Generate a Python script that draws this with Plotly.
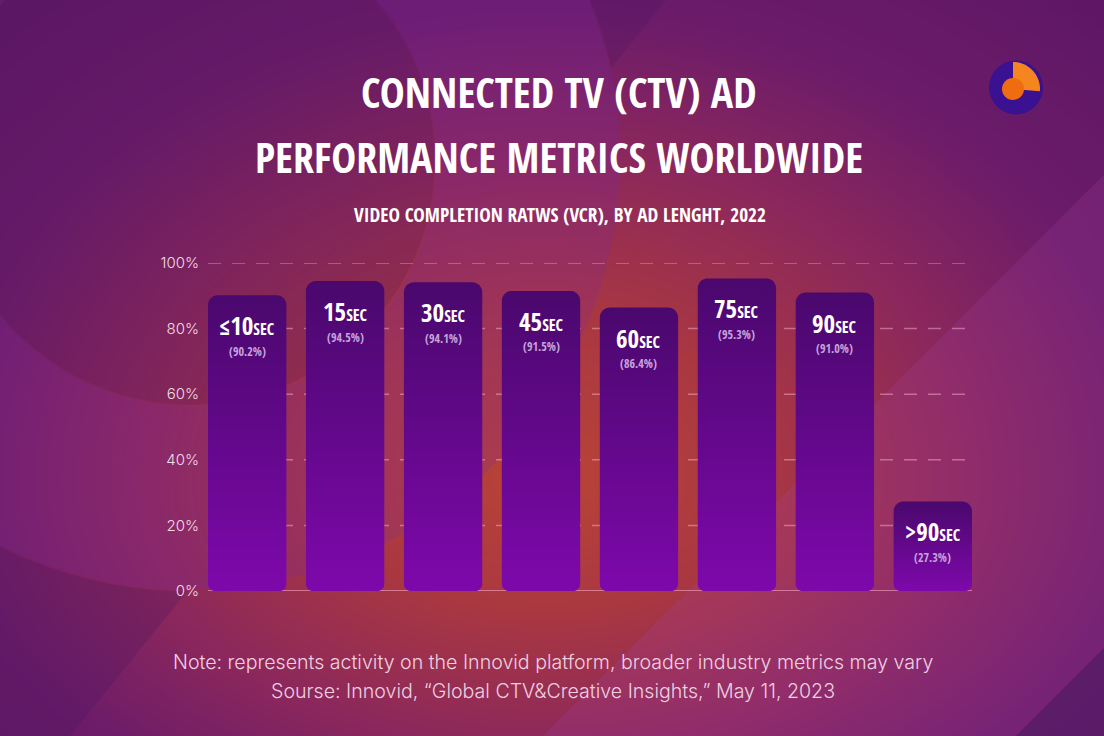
import math
import zlib
import struct
import base64
import numpy as np
import plotly.graph_objects as go

# ---------------- data ----------------
ad_lengths = ["≤10", "15", "30", "45", "60", "75", "90", ">90"]
length_unit = "SEC"
vcr_values = [90.2, 94.5, 94.1, 91.5, 86.4, 95.3, 91.0, 27.3]
y_tick_vals = [0, 20, 40, 60, 80, 100]
y_tick_text = ["0%", "20%", "40%", "60%", "80%", "100%"]

title_lines = ["CONNECTED TV (CTV) AD", "PERFORMANCE METRICS WORLDWIDE"]
subtitle = "VIDEO COMPLETION RATWS (VCR), BY AD LENGHT, 2022"
note_text = "Note: represents activity on the Innovid platform, broader industry metrics may vary"
source_text = "Sourse: Innovid, “Global CTV&Creative Insights,” May 11, 2023"

# ---------------- layout geometry ----------------
W, H = 1104, 736
ML, MR, MT, MB = 208, 132, 263, 145
PW, PH = W - ML - MR, H - MT - MB
X_RANGE = [-0.4, len(ad_lengths) - 0.6]
Y_RANGE = [0, 100]
PX_X = PW / (X_RANGE[1] - X_RANGE[0])
PX_Y = PH / (Y_RANGE[1] - Y_RANGE[0])


def px(x_px):
    return (x_px - ML) / PW


def py(y_px):
    return (H - MB - y_px) / PH


NARROW = "Open Sans Condensed, Roboto Condensed, DejaVu Sans Condensed, sans-serif"
BODY = "Inter, Roboto, sans-serif"

# ---------------- background image ----------------
yy, xx = np.mgrid[0:H, 0:W].astype(float)
ry_ = np.where(yy > 480, 380, 470)
d = np.sqrt(((xx - 545) / 600) ** 2 + ((yy - 480) / ry_) ** 2)
stops = [0, 0.35, 0.7, 1.0, 1.5]
cols = np.array([(185, 68, 55), (170, 56, 66), (140, 40, 92), (108, 28, 106), (90, 22, 100)], float)
img = np.stack([np.interp(d, stops, cols[:, c]) for c in range(3)], axis=-1)


def blend(img, mask, color, alpha):
    m = (mask * alpha)[..., None]
    return img * (1 - m) + np.array(color, float) * m


r = np.sqrt((xx - 190) ** 2 + (yy - 160) ** 2)
ring = np.clip((430 - r) / 1.5, 0, 1) * np.clip((r - 245) / 1.5, 0, 1)
inner = np.clip((245 - r) / 1.5, 0, 1)
img = blend(img, ring, (120, 38, 170), 0.2)
img = blend(img, inner, (75, 20, 95), 0.2)
s = xx + yy
img = blend(img, np.clip((s - 1277) / 1.5, 0, 1), (165, 65, 165), 0.2)
img = blend(img, np.clip((s - 1750) / 1.5, 0, 1), (55, 18, 85), 0.4)
outside = np.clip((r - 430) / 1.5, 0, 1)
left_line = np.clip(((180 - 0.81 * (yy - 600)) - xx) / 1.5, 0, 1)
img = blend(img, outside * left_line, (70, 20, 95), 0.25)
img = np.clip(img, 0, 255).astype(np.uint8)


def png_data_uri(a):
    h, w, _ = a.shape
    raw = np.concatenate([np.zeros((h, 1), np.uint8), a.reshape(h, w * 3)], axis=1).tobytes()

    def chunk(t, data):
        return struct.pack(">I", len(data)) + t + data + struct.pack(">I", zlib.crc32(t + data) & 0xFFFFFFFF)

    png = (b"\x89PNG\r\n\x1a\n"
           + chunk(b"IHDR", struct.pack(">IIBBBBB", w, h, 8, 2, 0, 0, 0))
           + chunk(b"IDAT", zlib.compress(raw, 9))
           + chunk(b"IEND", b""))
    return "data:image/png;base64," + base64.b64encode(png).decode()


bg_uri = png_data_uri(img)

# ---------------- bars (rounded, gradient) ----------------


def rounded_bar(xc, v, hw=0.4, rt=10, rb=7, n=10):
    rtx, rty = rt / PX_X, rt / PX_Y
    rbx, rby = rb / PX_X, rb / PX_Y
    corners = [
        (xc - hw + rbx, rby, rbx, rby, math.pi),
        (xc + hw - rbx, rby, rbx, rby, 1.5 * math.pi),
        (xc + hw - rtx, v - rty, rtx, rty, 0.0),
        (xc - hw + rtx, v - rty, rtx, rty, 0.5 * math.pi),
    ]
    xs, ys = [], []
    for cx, cy, rx, ry, a0 in corners:
        for k in range(n + 1):
            a = a0 + k * (math.pi / 2) / n
            xs.append(cx + rx * math.cos(a))
            ys.append(cy + ry * math.sin(a))
    xs.append(xs[0])
    ys.append(ys[0])
    return xs, ys


fig = go.Figure()
for i, v in enumerate(vcr_values):
    bx, by = rounded_bar(i, v)
    fig.add_trace(go.Scatter(
        x=bx, y=by, mode="none", fill="toself",
        fillcolor="#62089a",
        fillgradient=dict(type="vertical", colorscale=[[0, "#7e08ab"], [1, "#4a086d"]]),
        hoverinfo="skip", showlegend=False,
    ))

# gridlines (dashed) and baseline
for t in y_tick_vals[1:]:
    fig.add_shape(type="line", xref="paper", yref="y", x0=0, x1=1, y0=t, y1=t,
                  line=dict(color="rgba(255,190,215,0.45)", width=1.5, dash="13px,11px"),
                  layer="below")
fig.add_shape(type="line", xref="paper", yref="y", x0=0, x1=1, y0=0, y1=0,
              line=dict(color="rgba(255,175,205,0.55)", width=2), layer="below")

# bar labels
for i, (cat, v) in enumerate(zip(ad_lengths, vcr_values)):
    fig.add_annotation(
        x=i, y=v, xref="x", yref="y", yshift=-30, yanchor="middle", showarrow=False,
        borderpad=0,
        text=f"<b>{cat}<span style='font-size:16px'>{length_unit}</span></b>",
        font=dict(family=NARROW, size=25, color="white"),
    )
    fig.add_annotation(
        x=i, y=v, xref="x", yref="y", yshift=-56, yanchor="middle", showarrow=False,
        borderpad=0,
        text=f"({v:.1f}%)",
        font=dict(family=NARROW, size=12, color="#c6a3dc", weight=300),
    )

# titles
fig.add_annotation(x=px(559), y=py(91), xref="paper", yref="paper", showarrow=False,
                   text=f"<b>{title_lines[0]}</b>", yanchor="middle",
                   font=dict(family=NARROW, size=42, color="white"))
fig.add_annotation(x=px(559), y=py(156), xref="paper", yref="paper", showarrow=False,
                   text=f"<b>{title_lines[1]}</b>", yanchor="middle",
                   font=dict(family=NARROW, size=42, color="white"))
fig.add_annotation(x=px(560), y=py(214), xref="paper", yref="paper", showarrow=False,
                   text=f"<b>{subtitle}</b>", yanchor="middle",
                   font=dict(family=NARROW, size=19.3, color="white"))
fig.add_annotation(x=px(553), y=py(662), xref="paper", yref="paper", showarrow=False,
                   text=note_text, yanchor="middle",
                   font=dict(family=BODY, size=19.6, color="#f0cfe2", weight=300))
fig.add_annotation(x=px(553), y=py(691), xref="paper", yref="paper", showarrow=False,
                   text=source_text, yanchor="middle",
                   font=dict(family=BODY, size=19.6, color="#f0cfe2", weight=300))

# logo
lx, ly = px(1016), py(87.5)
fig.add_shape(type="circle", xref="paper", yref="paper", xsizemode="pixel", ysizemode="pixel",
              xanchor=lx, yanchor=ly, x0=-27, x1=27, y0=-27, y1=27,
              fillcolor="#3a1190", line=dict(width=0), layer="above")
ax, ay = -3, -1.5
wedge = [(ax, ay)]
for k in range(21):
    a = math.radians(90 - k * (95 / 20))
    wedge.append((ax + 27 * math.cos(a), ay + 27 * math.sin(a)))
path = "M " + " L ".join(f"{x:.2f},{y:.2f}" for x, y in wedge) + " Z"
fig.add_shape(type="path", xref="paper", yref="paper", xsizemode="pixel", ysizemode="pixel",
              xanchor=lx, yanchor=ly, path=path, fillcolor="#f5861f", line=dict(width=0), layer="above")
fig.add_shape(type="circle", xref="paper", yref="paper", xsizemode="pixel", ysizemode="pixel",
              xanchor=lx, yanchor=ly, x0=ax - 11, x1=ax + 11, y0=ay - 11, y1=ay + 11,
              fillcolor="#f06c10", line=dict(width=0), layer="above")

fig.add_layout_image(dict(
    source=bg_uri, xref="paper", yref="paper",
    x=-ML / PW, y=1 + MT / PH, sizex=W / PW, sizey=H / PH,
    xanchor="left", yanchor="top", sizing="stretch", layer="below",
))

fig.update_layout(
    width=W, height=H,
    margin=dict(l=ML, r=MR, t=MT, b=MB),
    paper_bgcolor="#7a2270", plot_bgcolor="rgba(0,0,0,0)",
    showlegend=False,
    xaxis=dict(range=X_RANGE, showgrid=False, zeroline=False, showticklabels=False,
               showline=False, fixedrange=True),
    yaxis=dict(range=Y_RANGE, tickvals=y_tick_vals, ticktext=y_tick_text,
               showgrid=False, zeroline=False,
               showline=False, ticks="", ticklabelstandoff=8,
               tickfont=dict(family=BODY, size=15, color="#f2dce8", weight=300),
               fixedrange=True),
)

fig.write_html("out.html")
